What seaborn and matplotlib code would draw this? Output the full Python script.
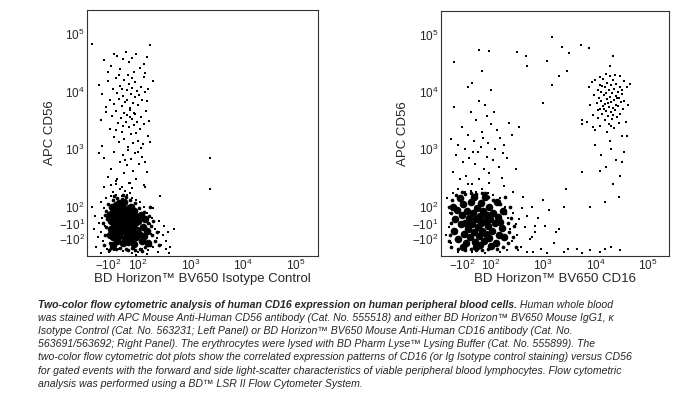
import numpy as np
import pandas as pd
import matplotlib
matplotlib.use("Agg")
import matplotlib.pyplot as plt
from matplotlib import ticker
import seaborn as sns

sns.set_style("white")
plt.rcParams['font.family'] = ['Liberation Sans', 'DejaVu Sans']
plt.rcParams['mathtext.fontset'] = 'custom'
plt.rcParams['mathtext.rm'] = 'Liberation Sans'
plt.rcParams['mathtext.default'] = 'regular'

# ---- event positions (x = BV650, y = APC CD56) ----
# left panel: isotype control
iso_core = [(-85,-40),(-80,10),(-78,60),(-70,-90),(-62,-15),(-60,35),(-55,85),(-50,-60),(-45,105),
            (-40,-110),(-38,0),(-35,55),(-30,-35),(-25,-85),(-20,25),(-18,75),(-12,-55),(-8,-5),
            (-5,100),(-2,-120),(3,45),(8,-30),(12,-95),(15,10),(18,70),(22,-60),(28,-10),(30,35),
            (35,-115),(38,90),(42,-80),(45,-40),(48,15),(52,55),(58,-100),(60,-20),(65,25),(70,-65),
            (72,75),(78,-125),(80,-5),(85,40),(90,-90),(95,-45),(100,10),(108,-70),(115,50),(120,-110),
            (125,-25),(135,-85),(140,20),(150,-55),(160,-120),(-90,-75),(-95,40),(-65,-130),(10,120),
            (-28,115),(55,100),(-75,95)]
iso_rim = [(-115,-80),(-110,-30),(-108,20),(-112,70),(-100,110),(-90,-120),(-70,130),(-40,140),
           (-10,135),(20,145),(50,130),(80,115),(105,90),(130,65),(165,40),(180,-20),(190,-80),
           (175,-130),(140,-140),(110,-150),(60,-145),(20,-150),(-20,-145),(-50,-150),(-80,-145),
           (-120,-130),(-125,0),(-118,45),(210,-110),(230,-60),(160,-5),(170,100),(-60,155),(0,160),
           (35,-160),(250,-130),(200,10),(-95,-160),(120,-165),(85,-160)]
iso_halo = [(-140,-60),(-130,30),(-125,-110),(-120,90),(-115,-20),(-110,140),(-105,-150),(-100,60),
            (-150,0),(-160,-90),(-135,120),(-95,-170),(-85,150),(-70,180),(-60,-160),(-45,160),
            (-30,-150),(-20,200),(-10,150),(0,-165),(15,190),(25,160),(30,-160),(45,170),(60,140),
            (75,-150),(90,130),(110,120),(130,100),(150,60),(170,-10),(180,-70),(190,30),(200,-140),
            (210,-40),(230,-100),(250,-60),(260,10),(280,-130),(300,-80),(320,-20),(350,-110),
            (380,-60),(420,-140),(480,-40),(200,90),(240,-170),(160,-160),(120,-150),(100,-170),
            (60,-180),(-180,40),(-170,-140),(-190,-40),(-200,100),(-80,240),(40,260),(-50,280),
            (140,220),(-120,220),(270,150),(340,-150),(390,-180),(-140,-180),(90,-190),(150,-185)]
iso_column = [(-120,3.5e4),(-60,4.5e4),(-40,4.2e4),(20,4.8e4),(60,3.8e4),(90,4.4e4),(150,4.0e4),
              (170,6.5e4),(-200,6.6e4),(-80,2.8e4),(-20,2.5e4),(40,3.2e4),(110,2.6e4),(130,3.0e4),
              (0,3.6e4),(75,2.2e4),(-100,2.2e4),(140,2.1e4),(200,1.5e4),(-30,1.9e4),
              (-150,1.3e4),(-130,9e3),(-100,1.5e4),(-90,7e3),(-70,1.1e4),(-60,6e3),(-50,1.7e4),
              (-40,9.5e3),(-30,7.5e3),(-20,1.25e4),(-10,5.5e3),(0,8.5e3),(10,1.6e4),(15,6.5e3),
              (25,1.05e4),(30,7e3),(40,1.35e4),(45,5.2e3),(55,9e3),(60,1.15e4),(70,6.2e3),(80,1.45e4),
              (85,8e3),(95,1.0e4),(100,5.8e3),(115,1.2e4),(120,7.2e3),(130,1.8e4),(140,9.8e3),
              (150,6.8e3),(160,1.1e4),(-110,5.3e3),(35,1.9e4),(-5,1.1e4),(65,1.7e4),(105,8.6e3),
              (-140,3.2e3),(-110,4.4e3),(-90,2.2e3),(-75,3.8e3),(-60,1.6e3),(-50,4.6e3),(-35,2.8e3),
              (-25,1.3e3),(-15,3.5e3),(-5,2.0e3),(5,4.2e3),(10,1.5e3),(20,2.9e3),(28,3.9e3),(35,1.1e3),
              (42,2.4e3),(50,4.8e3),(55,1.8e3),(62,3.3e3),(68,1.25e3),(75,2.6e3),(82,4.0e3),(88,1.9e3),
              (95,3.0e3),(100,1.4e3),(110,2.2e3),(118,3.6e3),(125,1.2e3),(135,2.7e3),(145,4.5e3),
              (155,1.7e3),(165,3.1e3),(-130,1.15e3),(0,2.5e3),(45,3.6e3),(72,4.3e3),(-45,2.1e3),
              (115,1.05e3),(170,1.35e3),(-150,850),
              (-120,700),(-80,450),(-60,900),(-40,300),(-20,600),(0,800),(10,380),(25,520),(35,950),
              (45,260),(55,680),(70,420),(80,850),(90,300),(105,560),(120,720),(130,240),(150,400),
              (-100,330),(-10,220),(60,210),(15,650),(-50,250),(100,900),(140,600),
              (2400,700),(2400,200)]

# right panel: CD16
cd16_core = [(-140,-50),(-135,20),(-125,80),(-120,-100),(-105,-10),(-100,50),(-95,110),(-85,-70),
             (-80,0),(-70,-120),(-65,70),(-60,-40),(-50,30),(-45,-90),(-40,120),(-30,-10),(-25,60),
             (-15,-60),(-10,-115),(-5,20),(5,90),(10,-30),(18,-85),(22,40),(30,-5),(35,115),(40,-50),
             (48,70),(55,-110),(58,10),(65,-70),(70,45),(78,-20),(85,100),(90,-95),(95,20),(105,-50),
             (110,60),(120,-5),(125,-120),(135,35),(140,-75),(150,5),(160,-35),(170,70),(180,-90),
             (-150,100),(-110,140),(-20,150),(60,145),(-90,-140),(0,-140),(100,-135),(130,120),
             (-55,-15),(25,-130)]
cd16_rim = [(-170,-80),(-165,0),(-160,60),(-155,130),(-130,160),(-80,165),(-40,170),(0,165),(40,170),
            (80,150),(110,130),(150,110),(190,60),(210,0),(220,-60),(210,-120),(170,-140),(130,-150),
            (80,-155),(40,-160),(0,-160),(-40,-155),(-80,-160),(-120,-150),(-160,-140),(-175,-110),
            (240,30),(260,-90),(280,-20),(230,100),(190,150),(-100,180),(60,175),(-180,100),(300,-140)]
cd16_halo = [(-180,-30),(-170,60),(-160,-120),(-190,140),(-200,-80),(-150,170),(-120,200),(-80,180),
             (-40,190),(0,180),(40,200),(80,170),(110,160),(150,140),(190,100),(210,30),(230,-40),
             (250,-110),(270,60),(300,-10),(320,-80),(350,20),(380,-140),(400,90),(450,-30),(500,40),
             (550,-100),(600,100),(700,-60),(800,30),(900,-150),(1100,-20),(1300,80),(1600,-120),
             (2000,-40),(2500,100),(3000,-150),(200,-160),(150,-170),(60,-180),(-30,-175),(-120,-170),
             (260,180),(420,150),(650,-170),(4500,-150),(8000,-160),(1.2e4,-170),(2.0e4,-140),
             (3.0e4,-160),(1.5e4,-150),(5500,-180),(180,230),(-60,250),(90,260),(330,-160),(480,-170),
             (1200,-180),(2500,-175),(700,-20),(1800,-60),(600,-90)]
cd16_column = [(-150,400),(-130,800),(-120,1.2e3),(-110,300),(-100,2.5e3),(-90,600),(-80,1.0e3),
               (-70,350),(-60,1.8e3),(-50,700),(-40,4.5e3),(-30,250),(-20,1.4e3),(-10,550),(0,3.2e3),
               (10,900),(20,300),(30,1.1e3),(40,2.0e3),(50,450),(60,6.0e3),(70,750),(80,1.3e3),
               (90,380),(100,2.8e3),(110,650),(120,1.0e3),(130,2.2e3),(140,500),(150,1.6e3),(160,320),
               (170,850),(-140,5.5e3),(-60,1.2e4),(20,7e3),(180,1.2e3),(-25,900),(45,1.6e3),(75,3.8e3),
               (115,4.5e3),(200,700),(250,1.8e3),(350,2.5e3),(300,450),(-160,1.5e3)]
cd16_arc = [(20,5.3e4),(85,5.1e4),(310,4.9e4),(470,4.2e4),(500,2.8e4),(1.2e3,3.5e4),(1.5e3,9e4),
            (2.3e3,6e4),(3.1e3,4.7e4),(5.4e3,6.5e4),(7.5e3,5.8e4),(2.2e4,4.2e4),(1.9e4,2.8e4),
            (-140,3.4e4),(-30,1.45e4),(40,2.3e4),(100,1.1e4),(1e3,6.4e3),(220,2.9e3),(1.5e3,1.35e4),
            (2e3,1.9e4),(2.8e3,2.3e4),(2.7e3,200),(1.0e3,130)]
cd16_nk = [(7e3,3e3),(7.5e3,1.2e4),(8e3,6e3),(8.5e3,1.5e4),(9e3,4e3),(9.5e3,9e3),(1.0e4,2.2e3),
           (1.0e4,1.6e4),(1.05e4,6.5e3),(1.1e4,1.1e4),(1.1e4,3.5e3),(1.15e4,8e3),(1.2e4,5e3),
           (1.2e4,1.35e4),(1.25e4,2.6e3),(1.3e4,7e3),(1.3e4,1.0e4),(1.35e4,4.2e3),(1.4e4,1.7e4),
           (1.4e4,5.8e3),(1.45e4,8.8e3),(1.5e4,3.2e3),(1.5e4,1.2e4),(1.55e4,6.2e3),(1.6e4,4.6e3),
           (1.6e4,9.5e3),(1.65e4,2.0e3),(1.7e4,1.45e4),(1.7e4,7.5e3),(1.75e4,3.8e3),(1.8e4,5.5e3),
           (1.8e4,1.1e4),(1.85e4,2.8e3),(1.9e4,8.2e3),(1.9e4,1.9e4),(1.95e4,4.4e3),(2.0e4,6.8e3),
           (2.0e4,1.3e4),(2.1e4,3.4e3),(2.1e4,9.8e3),(2.15e4,5.2e3),(2.2e4,1.6e4),(2.25e4,7.2e3),
           (2.3e4,2.4e3),(2.3e4,1.15e4),(2.4e4,4.8e3),(2.45e4,8.6e3),(2.5e4,6.0e3),(2.5e4,1.4e4),
           (2.6e4,3.6e3),(2.65e4,1.0e4),(2.7e4,5.6e3),(2.8e4,7.8e3),(2.8e4,2.9e3),(2.9e4,1.2e4),
           (3.0e4,4.2e3),(3.1e4,6.6e3),(3.2e4,9.2e3),(3.3e4,1.7e3),(3.4e4,5.0e3),(3.5e4,1.55e4),
           (3.6e4,7.0e3),(3.8e4,3.0e3),(4.0e4,1.2e4),(4.0e4,1.7e3),(1.2e4,1.8e4),(1.6e4,2.1e4),
           (2.4e4,2.0e4),(3.0e4,1.9e4),(9e3,2.5e3),(1.35e4,1.25e4),(1.75e4,6.4e3),(2.2e4,4.0e3),
           (2.6e4,8.0e3),(1.45e4,5.0e3),(2.0e4,2.6e3),(3.3e4,1.1e4),(1.1e4,4.8e3),(5.5e3,3.3e3),
           (5.5e3,2.8e3),(4.5e4,1.4e4),(4.2e4,6e3),
           (1.0e4,1.2e3),(1.3e4,800),(1.6e4,500),(2.0e4,1.0e3),(2.5e4,650),(3.0e4,350),(3.5e4,900),
           (2.2e4,250),(1.2e4,420),(2.8e4,150),(1.5e4,120),(3.3e4,600),(5.5e3,400),(8e3,100),
           (1.9e4,1.4e3)]

x_ticks = [-100, 100, 1e3, 1e4, 1e5]
x_ticklabels = ['$-10^2$', '$10^2$', '$10^3$', '$10^4$', '$10^5$']
y_ticks = [-100, -10, 100, 1e3, 1e4, 1e5]
y_ticklabels = ['$-10^2$', '$-10^1$', '$10^2$', '$10^3$', '$10^4$', '$10^5$']

caption_bold = "Two-color flow cytometric analysis of human CD16 expression on human peripheral blood cells."
caption_lines = [
    " Human whole blood",
    "was stained with APC Mouse Anti-Human CD56 antibody (Cat. No. 555518) and either BD Horizon™ BV650 Mouse IgG1, κ",
    "Isotype Control (Cat. No. 563231; Left Panel) or BD Horizon™ BV650 Mouse Anti-Human CD16 antibody (Cat. No.",
    "563691/563692; Right Panel). The erythrocytes were lysed with BD Pharm Lyse™ Lysing Buffer (Cat. No. 555899). The",
    "two-color flow cytometric dot plots show the correlated expression patterns of CD16 (or Ig Isotype control staining) versus CD56",
    "for gated events with the forward and side light-scatter characteristics of viable peripheral blood lymphocytes. Flow cytometric",
    "analysis was performed using a BD™ LSR II Flow Cytometer System.",
]

panels = [
    ("BD Horizon™ BV650 Isotype Control",
     [(iso_core, 30, 'o'), (iso_rim, 7, 'o'), (iso_halo, 2.5, 's'), (iso_column, 1.6, 's')]),
    ("BD Horizon™ BV650 CD16",
     [(cd16_core, 30, 'o'), (cd16_rim, 7, 'o'), (cd16_halo, 2.5, 's'), (cd16_column, 1.6, 's'),
      (cd16_arc, 1.6, 's'), (cd16_nk, 1.6, 's')]),
]
boxes = [[0.128, 0.354, 0.340, 0.621], [0.649, 0.354, 0.337, 0.619]]

fig = plt.figure(figsize=(6.79, 3.96), dpi=100)
for (xlabel, groups), box in zip(panels, boxes):
    ax = fig.add_axes(box)
    for pts, size, mk in groups:
        df = pd.DataFrame(pts, columns=['x', 'y'])
        sns.scatterplot(data=df, x='x', y='y', s=size, color='black', marker=mk,
                        linewidth=0, ax=ax)
    ax.set_xscale('symlog', linthresh=100, linscale=0.25)
    ax.set_yscale('symlog', linthresh=100, linscale=0.25)
    ax.set_xlim(-255, 262143)
    ax.set_ylim(-200, 262143)
    ax.set_xticks(x_ticks)
    ax.set_xticklabels(x_ticklabels)
    ax.set_yticks(y_ticks)
    ax.set_yticklabels(y_ticklabels)
    ax.xaxis.set_minor_locator(ticker.SymmetricalLogLocator(linthresh=100, base=10, subs=np.arange(2, 10)))
    ax.yaxis.set_minor_locator(ticker.SymmetricalLogLocator(linthresh=100, base=10, subs=np.arange(2, 10)))
    ax.tick_params(which='both', direction='in', labelsize=8.5, color='#444444', width=0.6, pad=1.5)
    ax.tick_params(which='major', length=2.5)
    ax.tick_params(which='minor', length=1.5)
    for sp in ax.spines.values():
        sp.set_color('#333333')
        sp.set_linewidth(0.8)
    ax.set_xlabel(xlabel, fontsize=9.5, labelpad=0)
    ax.set_ylabel('APC CD56', fontsize=9.5, labelpad=2)

# caption, one text per line so the spacing stays even
fs = 7.6
x0, dy = 38 / 679, 13.2 / 396
y_first = 1 - 307.5 / 396
t = fig.text(x0, y_first, caption_bold, fontsize=fs, style='italic', weight='bold', va='baseline')
bb = t.get_window_extent(renderer=fig.canvas.get_renderer())
fig.text(bb.x1 / fig.bbox.width, y_first, caption_lines[0], fontsize=fs, style='italic', va='baseline')
for i, line in enumerate(caption_lines[1:], start=1):
    fig.text(x0, y_first - i * dy, line, fontsize=fs, style='italic', va='baseline')

fig.savefig("out.png", dpi=100)
